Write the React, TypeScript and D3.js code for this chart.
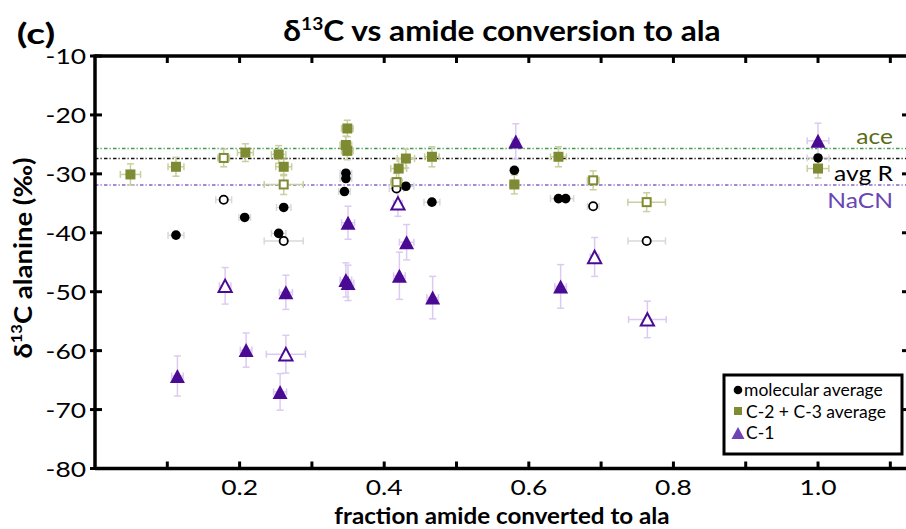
import React from "react";
import * as d3 from "d3";

// [x, y, xErr, yErr]
type Pt = [number, number, number, number];

const molecularFilled: Pt[] = [
  [0.112, -40.4, 0.011, 0.5],
  [0.207, -37.4, 0.008, 0.5],
  [0.254, -40.1, 0.010, 0.5],
  [0.261, -35.7, 0.010, 0.5],
  [0.347, -29.9, 0.008, 0.5],
  [0.347, -30.8, 0.008, 0.5],
  [0.345, -33.0, 0.008, 0.5],
  [0.430, -32.1, 0.011, 0.5],
  [0.466, -34.8, 0.011, 0.5],
  [0.580, -29.4, 0.005, 0.5],
  [0.641, -34.2, 0.011, 0.5],
  [0.651, -34.2, 0.011, 0.5],
  [1.0, -27.3, 0.015, 0.5],
];
const molecularOpen: Pt[] = [
  [0.178, -34.4, 0.011, 0.5],
  [0.261, -41.4, 0.027, 0.5],
  [0.417, -32.5, 0.010, 0.5],
  [0.689, -35.5, 0.008, 0.5],
  [0.763, -41.4, 0.026, 0.5],
];
const c23Filled: Pt[] = [
  [0.049, -30.1, 0.014, 1.8],
  [0.112, -28.8, 0.011, 1.6],
  [0.208, -26.4, 0.011, 1.5],
  [0.254, -26.7, 0.010, 1.5],
  [0.261, -28.8, 0.011, 1.5],
  [0.349, -22.3, 0.008, 1.4],
  [0.347, -25.1, 0.008, 1.5],
  [0.349, -26.1, 0.008, 1.5],
  [0.420, -29.1, 0.011, 1.7],
  [0.430, -27.4, 0.012, 1.6],
  [0.466, -27.1, 0.010, 1.7],
  [0.580, -31.8, 0.006, 1.6],
  [0.641, -27.1, 0.011, 1.7],
  [1.0, -29.1, 0.015, 1.6],
];
const c23Open: Pt[] = [
  [0.178, -27.3, 0.008, 1.5],
  [0.261, -31.8, 0.027, 1.7],
  [0.417, -31.4, 0.008, 1.5],
  [0.689, -31.1, 0.008, 1.6],
  [0.763, -34.8, 0.026, 1.6],
];
const c1Filled: Pt[] = [
  [0.114, -64.3, 0.008, 3.4],
  [0.209, -59.9, 0.008, 2.9],
  [0.264, -50.1, 0.009, 2.9],
  [0.256, -67.0, 0.009, 3.1],
  [0.350, -38.3, 0.009, 2.8],
  [0.347, -48.0, 0.008, 2.9],
  [0.350, -48.5, 0.008, 3.0],
  [0.431, -41.6, 0.010, 3.0],
  [0.421, -47.3, 0.008, 4.0],
  [0.467, -51.0, 0.008, 3.6],
  [0.582, -24.5, 0.005, 3.0],
  [0.644, -49.1, 0.008, 3.7],
  [1.0, -24.4, 0.015, 3.0],
];
const c1Open: Pt[] = [
  [0.180, -49.0, 0.008, 3.1],
  [0.264, -60.6, 0.027, 3.2],
  [0.419, -35.0, 0.006, 2.2],
  [0.691, -44.1, 0.006, 3.3],
  [0.764, -54.7, 0.026, 3.1],
];

const refNames = ["ace", "avg R", "NaCN"];
const refValues = [-25.7, -27.4, -31.9];
const refLineColors = ["#3f9c4e", "#111111", "#8466c4"];
const refTextColors = ["#5b6c19", "#000000", "#6a46b4"];
const refLabelY = [144, 181, 208];

const xMajorTicks = [0.2, 0.4, 0.6, 0.8, 1.0];
const xMinorTicks = [0.1, 0.3, 0.5, 0.7, 0.9, 1.1];
const yTicks = [-10, -20, -30, -40, -50, -60, -70, -80];

const legendLabels = ["molecular average", "C-2 + C-3 average", "C-1"];

const FONT = "Lato, 'Open Sans', sans-serif";
const OLIVE = "#7e8b33";
const INDIGO = "#4a0a93";

export default function App() {
  const W = 906, H = 529;
  const x = d3.scaleLinear().domain([0, 1.125]).range([95, 908.4]);
  const y = d3.scaleLinear().domain([-80, -10]).range([468.5, 56]);
  const [x0, x1] = x.range();
  const [yb, yt] = y.range();

  const errBars = (pts: Pt[], color: string, key: string) =>
    pts.map((p, i) => {
      const cx = x(p[0]), cy = y(p[1]);
      const xl = x(p[0] - p[2]), xr = x(p[0] + p[2]);
      const yu = y(p[1] + p[3]), yd = y(p[1] - p[3]);
      const c = 3.5;
      return (
        <g key={key + i} stroke={color} strokeWidth={1.5} fill="none">
          <line x1={xl} x2={xr} y1={cy} y2={cy} />
          <line x1={xl} x2={xl} y1={cy - c} y2={cy + c} />
          <line x1={xr} x2={xr} y1={cy - c} y2={cy + c} />
          <line x1={cx} x2={cx} y1={yu} y2={yd} />
          <line x1={cx - c} x2={cx + c} y1={yu} y2={yu} />
          <line x1={cx - c} x2={cx + c} y1={yd} y2={yd} />
        </g>
      );
    });

  const tri = (cx: number, cy: number, hw: number, hh: number) =>
    `M${cx},${cy - hh}L${cx + hw},${cy + hh}L${cx - hw},${cy + hh}Z`;

  const dash = "3.5,2,1.2,2.3";
  const st = (tx: number, ty: number, sx: number) => `translate(${tx},${ty}) scale(${sx},1)`;

  return (
    <svg width={W} height={H} style={{ position: "absolute", left: 0, top: 0, background: "#fff" }} fontFamily={FONT}>
      <rect x={0} y={0} width={W} height={H} fill="#fff" />
      {/* title */}
      <text transform={st(36, 44, 1.4)} fontSize={28} fontWeight="bold" textAnchor="middle">(c)</text>
      <text transform={st(502, 41, 1.13)} fontSize={28} fontWeight="bold" textAnchor="middle">
        δ<tspan fontSize={17} dy={-11}>13</tspan><tspan dy={11}>C vs amide conversion to ala</tspan>
      </text>

      {/* reference lines */}
      {refValues.map((v, i) => (
        <line key={"r" + i} x1={x0} x2={x1} y1={y(v)} y2={y(v)} stroke={refLineColors[i]} strokeWidth={1.6} strokeDasharray={dash} />
      ))}
      {refNames.map((n, i) => (
        <text key={"rl" + i} transform={st(893, refLabelY[i], 1.12)} fontSize={22} fill={refTextColors[i]} textAnchor="end">{n}</text>
      ))}

      {/* error bars */}
      {errBars(molecularFilled, "#d9d9d9", "emf")}
      {errBars(molecularOpen, "#d9d9d9", "emo")}
      {errBars(c23Filled, "#c9cf9f", "esf")}
      {errBars(c23Open, "#c9cf9f", "eso")}
      {errBars(c1Filled, "#dccbf1", "etf")}
      {errBars(c1Open, "#dccbf1", "eto")}

      {/* triangles */}
      {c1Filled.map((p, i) => (
        <path key={"tf" + i} d={tri(x(p[0]), y(p[1]), 7.5, 7)} fill={INDIGO} />
      ))}
      {c1Open.map((p, i) => (
        <path key={"to" + i} d={tri(x(p[0]), y(p[1]), 6.6, 6.2)} fill="#fff" stroke={INDIGO} strokeWidth={2} />
      ))}
      {/* circles */}
      {molecularFilled.map((p, i) => (
        <circle key={"cf" + i} cx={x(p[0])} cy={y(p[1])} r={4.8} fill="#000" />
      ))}
      {molecularOpen.map((p, i) => (
        <circle key={"co" + i} cx={x(p[0])} cy={y(p[1])} r={4.1} fill="#fff" stroke="#000" strokeWidth={1.8} />
      ))}
      {/* squares */}
      {c23Filled.map((p, i) => (
        <rect key={"sf" + i} x={x(p[0]) - 5} y={y(p[1]) - 5} width={10} height={10} fill={OLIVE} />
      ))}
      {c23Open.map((p, i) => (
        <rect key={"so" + i} x={x(p[0]) - 4} y={y(p[1]) - 4} width={8} height={8} fill="#fff" stroke={OLIVE} strokeWidth={2} />
      ))}

      {/* axes */}
      <g stroke="#000">
        <line x1={x0} x2={x0} y1={yt - 1.5} y2={yb + 1.5} strokeWidth={3.5} />
        <line x1={x0} x2={x1} y1={yt} y2={yt} strokeWidth={3.5} />
        <line x1={x0} x2={x1} y1={yb} y2={yb} strokeWidth={3.5} />
        {yTicks.map((t) => (
          <line key={"yt" + t} x1={x0 - 5} x2={x0 + 7} y1={y(t)} y2={y(t)} strokeWidth={3} />
        ))}
        {yTicks.filter((t) => t !== -10 && t !== -80).map((t) => (
          <line key={"yr" + t} x1={902} x2={908} y1={y(t)} y2={y(t)} strokeWidth={3} />
        ))}
        {xMajorTicks.concat(xMinorTicks).map((t) => (
          <g key={"xt" + t}>
            <line x1={x(t)} x2={x(t)} y1={yt} y2={yt + 7} strokeWidth={3} />
            <line x1={x(t)} x2={x(t)} y1={yb} y2={yb - 7} strokeWidth={3} />
          </g>
        ))}
      </g>
      {yTicks.map((t) => (
        <text key={"ytl" + t} transform={st(86, y(t) + 8, 1.2)} fontSize={22} textAnchor="end">{t}</text>
      ))}
      {xMajorTicks.map((t) => (
        <text key={"xtl" + t} transform={st(x(t), 495, 1.2)} fontSize={22} textAnchor="middle">{d3.format(".1f")(t)}</text>
      ))}
      <text transform={st(502, 524, 1.1)} fontSize={22} fontWeight="bold" textAnchor="middle">fraction amide converted to ala</text>
      <text transform="translate(32,258) rotate(-90) scale(1.1,1)" fontSize={25} fontWeight="bold" textAnchor="middle">
        δ<tspan fontSize={15} dy={-10}>13</tspan><tspan dy={10}>C alanine (‰)</tspan>
      </text>

      {/* legend */}
      <rect x={724} y={375} width={178} height={79} fill="#fff" stroke="#000" strokeWidth={3} />
      <circle cx={738} cy={390} r={4.3} fill="#000" />
      <rect x={734} y={407} width={8} height={8} fill={OLIVE} />
      <path d={tri(738, 433, 6.5, 6)} fill="#6d43b5" />
      {legendLabels.map((l, i) => (
        <text key={"lg" + i} transform={st(i === 0 ? 744 : 746, 396 + i * 21.5, 1.03)} fontSize={17}>{l}</text>
      ))}
    </svg>
  );
}
